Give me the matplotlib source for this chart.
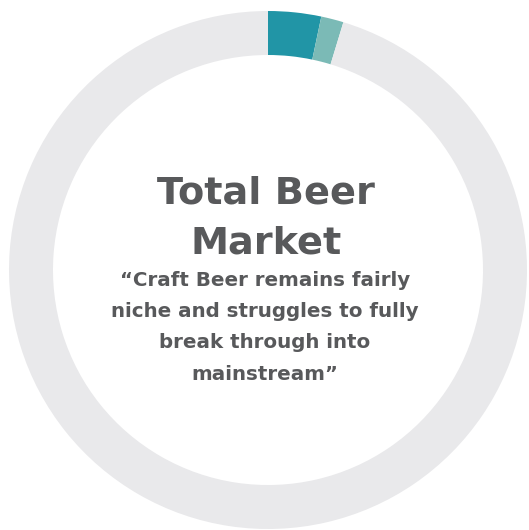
import matplotlib
matplotlib.use("Agg")
import matplotlib.pyplot as plt

# Data (share of total beer market, percent)
segments = ["Craft Beer", "Other Craft", "Rest of Market"]
values = [3.3, 1.4, 95.3]
colors = ["#2195a6", "#7bbab6", "#e9e9eb"]

title_lines = ["Total Beer", "Market"]
quote_lines = ["\u201cCraft Beer remains fairly",
               "niche and struggles to fully",
               "break through into",
               "mainstream\u201d"]

W, H = 529, 530
fig = plt.figure(figsize=(W / 100, H / 100), dpi=100)
ax = fig.add_axes([0, 0, 1, 1])

cx, cy = 268, H - 270
ax.pie(values, colors=colors, startangle=90, counterclock=False,
       radius=259, center=(cx, cy),
       wedgeprops=dict(width=44, linewidth=0))
ax.set_xlim(0, W)
ax.set_ylim(0, H)
ax.set_aspect("equal")
ax.axis("off")

txt_color = "#58595b"
for line, yb in zip(title_lines, [203, 253]):
    ax.text(266, H - yb, line, ha="center", va="baseline", fontsize=27.5,
            fontweight="heavy", color=txt_color, family="DejaVu Sans")
for line, yb in zip(quote_lines, [286, 317, 348, 380]):
    ax.text(265, H - yb, line, ha="center", va="baseline", fontsize=14.3,
            fontweight="bold", color=txt_color, family="DejaVu Sans")

fig.savefig("out.png", dpi=100)
